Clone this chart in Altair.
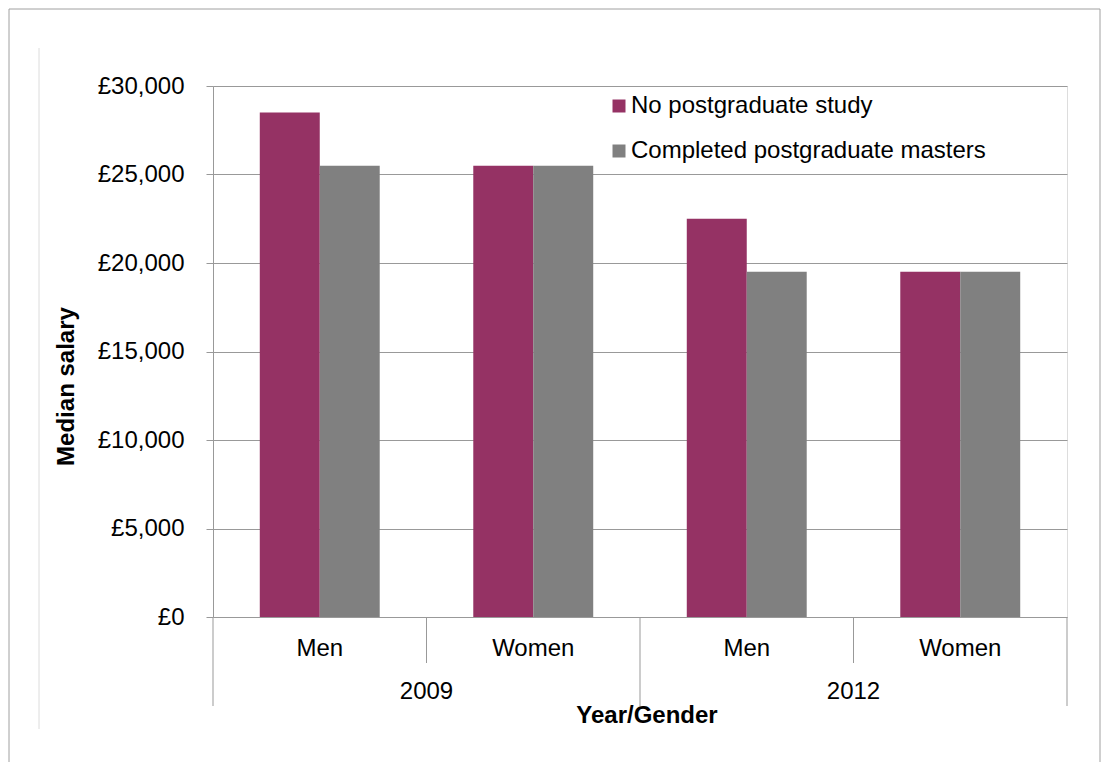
import altair as alt
import pandas as pd

categories = ["2009 Men", "2009 Women", "2012 Men", "2012 Women"]
gender_labels = ["Men", "Women", "Men", "Women"]
years = ["2009", "2012"]
year_anchor = ["2009 Women", "2012 Women"]
series = ["No postgraduate study", "Completed postgraduate masters"]
no_postgrad = [28500, 25500, 22500, 19500]
masters = [25500, 25500, 19500, 19500]
colors = ["#953264", "#808080"]
y_ticks = [0, 5000, 10000, 15000, 20000, 25000, 30000]

FONT = "Liberation Sans"
FS = 24
W, H = 854, 531

rows = []
for c, a, b in zip(categories, no_postgrad, masters):
    rows.append({"cat": c, "series": series[0], "value": a})
    rows.append({"cat": c, "series": series[1], "value": b})
df = pd.DataFrame(rows)

xscale = alt.Scale(domain=categories, paddingInner=0, paddingOuter=0)

bars = alt.Chart(df).mark_bar().encode(
    x=alt.X("cat:N", scale=xscale, axis=None, title=None),
    xOffset=alt.XOffset("series:N", sort=series,
                        scale=alt.Scale(domain=series, paddingInner=0, paddingOuter=0.78)),
    y=alt.Y("value:Q", scale=alt.Scale(domain=[0, 30000], nice=False),
            axis=alt.Axis(values=y_ticks, labelExpr="'£' + format(datum.value, ',')",
                          labelFont=FONT, labelFontSize=FS, labelColor="#000000",
                          labelPadding=22, tickSize=7, tickColor="#999999",
                          domainColor="#999999", gridColor="#999999",
                          title="Median salary", titleFont=FONT, titleFontSize=FS,
                          titleFontWeight="bold", titleColor="#000000",
                          titleAngle=-90, titleX=-147, titleY=300,
                          titleAlign="center", titleBaseline="middle")),
    color=alt.Color("series:N", sort=series,
                    scale=alt.Scale(domain=series, range=colors),
                    legend=alt.Legend(orient="none", legendX=394, legendY=8, title=None,
                                      symbolType="square", symbolSize=169,
                                      symbolStrokeWidth=0, labelFont=FONT,
                                      labelFontSize=FS, labelColor="#000000",
                                      labelLimit=0,
                                      rowPadding=21, labelOffset=0, padding=0)),
)

sep_df = pd.DataFrame({"cat": categories, "long": [True, False, True, False]})
long_sep = alt.Chart(sep_df).transform_filter("datum.long").mark_rule(color="#999999").encode(
    x=alt.X("cat:N", scale=xscale, bandPosition=0),
    y=alt.value(H), y2=alt.value(H + 89))
short_sep = alt.Chart(sep_df).transform_filter("!datum.long").mark_rule(color="#999999").encode(
    x=alt.X("cat:N", scale=xscale, bandPosition=0),
    y=alt.value(H), y2=alt.value(H + 46))
end_sep = alt.Chart(pd.DataFrame({"cat": [categories[-1]]})).mark_rule(color="#999999").encode(
    x=alt.X("cat:N", scale=xscale, bandPosition=1),
    y=alt.value(H), y2=alt.value(H + 89))

lab_df = pd.DataFrame({"cat": categories, "label": gender_labels})
labels = alt.Chart(lab_df).mark_text(font=FONT, fontSize=FS, color="#000000",
                                     baseline="alphabetic").encode(
    x=alt.X("cat:N", scale=xscale), y=alt.value(H + 39), text="label:N")

yr_df = pd.DataFrame({"cat": year_anchor, "year": years})
year_text = alt.Chart(yr_df).mark_text(font=FONT, fontSize=FS, color="#000000",
                                       baseline="alphabetic").encode(
    x=alt.X("cat:N", scale=xscale, bandPosition=0), y=alt.value(H + 82), text="year:N")

one = pd.DataFrame({"t": ["Year/Gender"]})
xtitle = alt.Chart(one).mark_text(font=FONT, fontSize=FS, fontWeight="bold",
                                  color="#000000", baseline="alphabetic").encode(
    x=alt.value(434), y=alt.value(H + 106), text="t:N")

# outer chart-area frame (top, left, right edges; bottom runs off the picture)
frame_top = alt.Chart(one).mark_rule(color="#a0a0a0").encode(
    x=alt.value(-204), x2=alt.value(887), y=alt.value(-77))
frame_left = alt.Chart(one).mark_rule(color="#a0a0a0").encode(
    x=alt.value(-204), y=alt.value(-77), y2=alt.value(676))
frame_right = alt.Chart(one).mark_rule(color="#a0a0a0").encode(
    x=alt.value(887), y=alt.value(-77), y2=alt.value(676))
faint = alt.Chart(one).mark_rule(color="#dcdcdc").encode(
    x=alt.value(-174), y=alt.value(-38), y2=alt.value(643))

chart = alt.layer(frame_top, frame_left, frame_right, faint, bars, long_sep, short_sep,
                  end_sep, labels, year_text, xtitle).properties(
    width=W, height=H, padding=0
).configure_view(stroke=None).configure(background="#ffffff")

chart.save("out.html", embed_options={"renderer": "svg", "actions": False})
